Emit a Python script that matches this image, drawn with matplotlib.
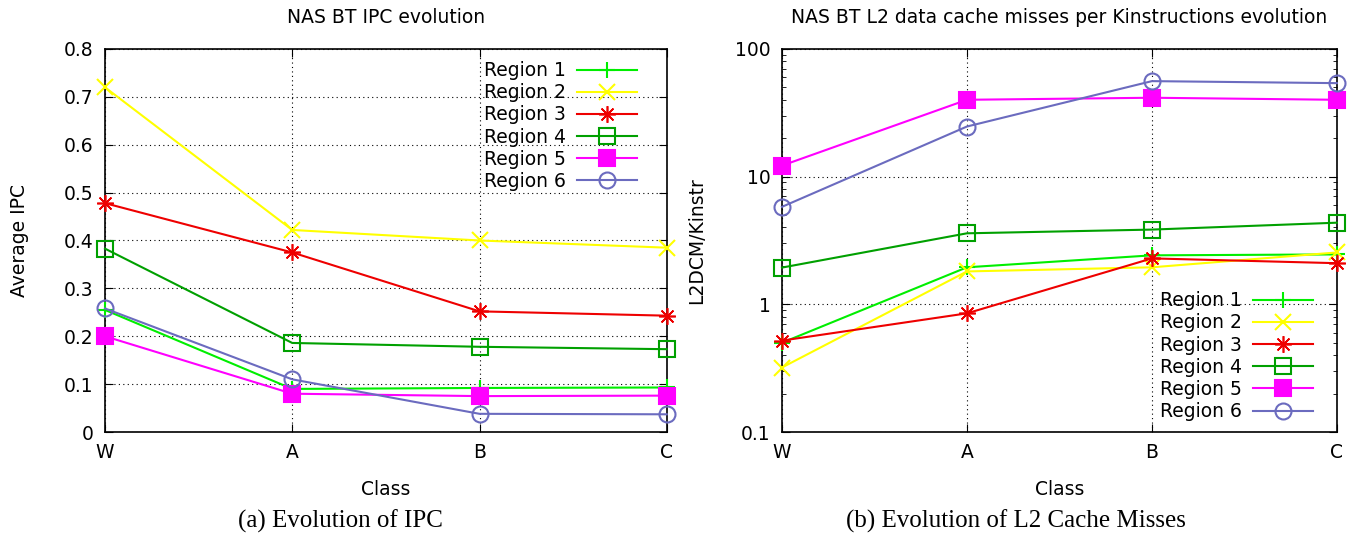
import matplotlib
matplotlib.use('Agg')
import matplotlib.pyplot as plt
import matplotlib.font_manager as fm
from matplotlib.ticker import FixedLocator, LogLocator, NullFormatter

names = set(f.name for f in fm.fontManager.ttflist)
serif = 'Liberation Serif' if 'Liberation Serif' in names else 'DejaVu Serif'
matplotlib.rcParams['font.family'] = ['DejaVu Sans']
matplotlib.rcParams['font.size'] = 13.5

classes = ['W', 'A', 'B', 'C']
labels = ['Region 1', 'Region 2', 'Region 3', 'Region 4', 'Region 5', 'Region 6']

# average IPC per class
ipc_r1 = [0.255, 0.090, 0.092, 0.093]
ipc_r2 = [0.720, 0.422, 0.400, 0.385]
ipc_r3 = [0.478, 0.375, 0.252, 0.243]
ipc_r4 = [0.383, 0.186, 0.178, 0.173]
ipc_r5 = [0.200, 0.080, 0.075, 0.076]
ipc_r6 = [0.258, 0.110, 0.038, 0.037]

# L2 data cache misses per kilo-instruction
l2_r1 = [0.50, 1.95, 2.42, 2.46]
l2_r2 = [0.32, 1.81, 1.95, 2.55]
l2_r3 = [0.52, 0.85, 2.29, 2.10]
l2_r4 = [1.94, 3.60, 3.85, 4.36]
l2_r5 = [12.2, 40.0, 41.5, 40.0]
l2_r6 = [5.8, 24.7, 56.0, 54.0]

colors = ['#00ee00', '#ffff00', '#ee0000', '#00a000', '#ff00ff', '#6b6bbf']
markers = ['+', 'x', (8, 2, 0), 's', 's', 'o']
msizes = [12, 12, 12, 11, 11.5, 11.5]
mews = [1.5, 1.5, 1.2, 1.5, 1.5, 1.5]
filled = [True, True, True, False, True, False]

fig = plt.figure(figsize=(13.58, 5.37), dpi=100)
ax1 = fig.add_axes([0.0773, 0.1955, 0.4137, 0.7133])
ax2 = fig.add_axes([0.5758, 0.1955, 0.4087, 0.7133])

x = range(len(classes))


def draw(ax, series):
    for i, ys in enumerate(series):
        mfc = colors[i] if filled[i] else 'none'
        ax.plot(x, ys, color=colors[i], marker=markers[i], markersize=msizes[i],
                markerfacecolor=mfc, markeredgecolor=colors[i],
                markeredgewidth=mews[i], linewidth=1.5, label=labels[i],
                clip_on=False, zorder=3)
    ax.set_xlim(0, len(classes) - 1)
    ax.set_xticks(list(x))
    ax.set_xticklabels(classes)
    ax.grid(True, color='black', linestyle=(0, (1, 3)), linewidth=0.8)
    ax.tick_params(direction='in', top=True, right=True, length=6, pad=8)
    ax.tick_params(which='minor', direction='in', top=False, right=True, length=3)
    for s in ax.spines.values():
        s.set_linewidth(1.2)
    ax.set_xlabel('Class', labelpad=13)
    ax.yaxis.set_label_coords(-0.136, 0.5)


draw(ax1, [ipc_r1, ipc_r2, ipc_r3, ipc_r4, ipc_r5, ipc_r6])
ax1.set_ylim(0, 0.8)
ax1.set_yticks([0, 0.1, 0.2, 0.3, 0.4, 0.5, 0.6, 0.7, 0.8])
ax1.set_yticklabels(['0', '0.1', '0.2', '0.3', '0.4', '0.5', '0.6', '0.7', '0.8'])
ax1.set_ylabel('Average IPC')
ax1.set_title('NAS BT IPC evolution', fontsize=13.5, pad=19)
leg1 = ax1.legend(loc='upper right', bbox_to_anchor=(0.960, 0.988),
                  markerfirst=False, frameon=False, borderaxespad=0,
                  handlelength=3.2, labelspacing=0.17, handletextpad=0.6)

draw(ax2, [l2_r1, l2_r2, l2_r3, l2_r4, l2_r5, l2_r6])
ax2.set_yscale('log')
ax2.set_ylim(0.1, 100)
ax2.yaxis.set_major_locator(FixedLocator([0.1, 1, 10, 100]))
ax2.set_yticklabels(['0.1', '1', '10', '100'])
ax2.yaxis.set_minor_locator(LogLocator(base=10, subs=range(2, 10)))
ax2.yaxis.set_minor_formatter(NullFormatter())
ax2.set_ylabel('L2DCM/Kinstr')
ax2.set_title('NAS BT L2 data cache misses per Kinstructions evolution',
              fontsize=13.5, pad=19)
leg2 = ax2.legend(loc='lower right', bbox_to_anchor=(0.970, 0.009),
                  markerfirst=False, frameon=False, borderaxespad=0,
                  handlelength=3.2, labelspacing=0.17, handletextpad=0.6)

for leg in (leg1, leg2):
    leg.set_zorder(5)

fig.text(0.2504, 0.018, '(a) Evolution of IPC', family=serif, fontsize=18, ha='center')
fig.text(0.7482, 0.018, '(b) Evolution of L2 Cache Misses', family=serif, fontsize=18, ha='center')

fig.savefig('out.png', dpi=100)
